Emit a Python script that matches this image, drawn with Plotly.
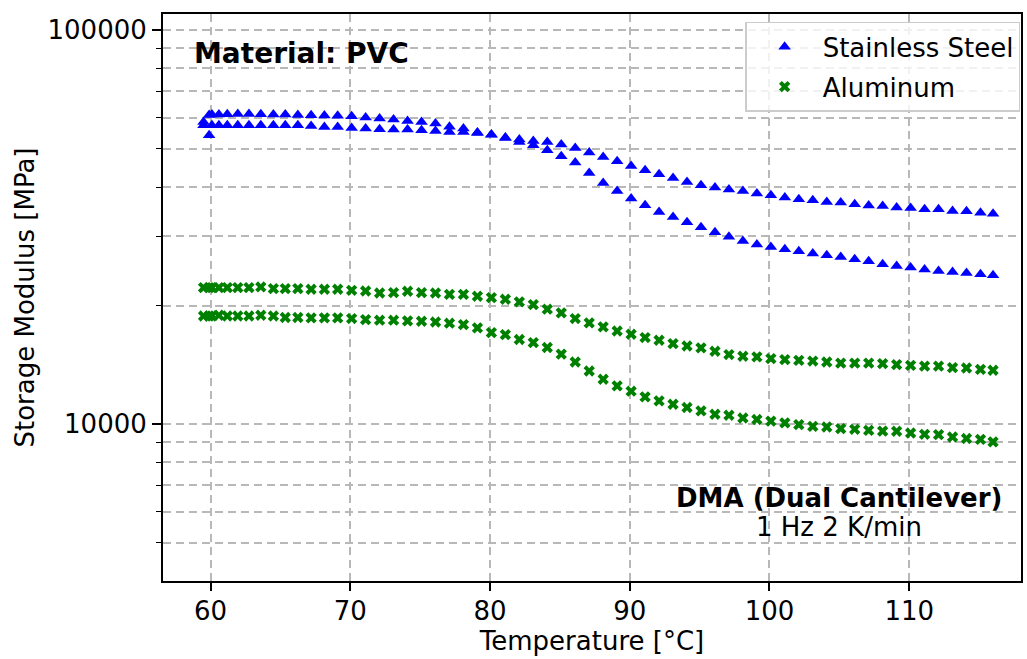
import plotly.graph_objects as go

# Temperatures [°C] shared by all measured curves
temperature = [59.5, 59.9, 60.1, 60.6, 61.2, 61.95, 62.75, 63.6, 64.5, 65.35, 66.25, 67.2, 68.15, 69.1,
               70.1, 71.1, 72.1, 73.1, 74.1, 75.1, 76.1, 77.1, 78.1, 79.1, 80.1, 81.1, 82.1, 83.1, 84.1,
               85.1, 86.1, 87.1, 88.1, 89.1, 90.1, 91.1, 92.1, 93.1, 94.1, 95.1, 96.1, 97.1, 98.1, 99.1,
               100.1, 101.1, 102.1, 103.1, 104.1, 105.1, 106.1, 107.1, 108.1, 109.1, 110.1, 111.1, 112.1,
               113.1, 114.1, 115.1, 116.0]

# Storage modulus [MPa]
steel_run1 = [58540, 61000, 61100, 61100, 61200, 61300, 61300, 61200, 61100, 61100, 61000, 60900, 60800, 60700,
              60490, 60030, 59690, 59340, 58860, 58540, 57990, 56900, 56310, 55000, 54360, 53420, 52800, 52360,
              52060, 51280, 50280, 48940, 47690, 46500, 45240, 44120, 43100, 42180, 41210, 40430, 39890, 39420,
              39090, 38500, 38120, 37620, 37250, 37030, 36660, 36540, 36170, 35900, 35810, 35480, 35400, 35130,
              35130, 34780, 34720, 34450, 34250]
steel_run2 = [57410, 54140, 57410, 57410, 57410, 57410, 57410, 57410, 57410, 57410, 57410, 57180, 56850, 56850,
              56510, 56310, 56080, 55980, 55980, 55750, 55520, 55200, 55200, 54900, 54300, 53300, 52060, 51070,
              49600, 47890, 46150, 43440, 40960, 39090, 37390, 35960, 34580, 33590, 32570, 31620, 30710, 29920,
              29190, 28590, 28180, 27810, 27480, 27120, 26850, 26590, 26240, 25930, 25480, 25230, 24990, 24700,
              24500, 24350, 24210, 24030, 23890]
alu_run1 = [22230, 22230, 22230, 22230, 22230, 22230, 22230, 22310, 22100, 22100, 22100, 22010, 22010, 22010,
            21880, 21790, 21540, 21590, 21760, 21590, 21540, 21370, 21370, 21130, 20970, 20760, 20440, 20130,
            19590, 19170, 18550, 18080, 17660, 17250, 16920, 16600, 16340, 16020, 15800, 15620, 15320, 15030,
            14880, 14820, 14680, 14590, 14530, 14470, 14390, 14300, 14300, 14300, 14250, 14170, 14110, 14050,
            14050, 13920, 13890, 13780, 13710]
alu_run2 = [18830, 18830, 18830, 18910, 18830, 18830, 18830, 18910, 18830, 18660, 18660, 18620, 18620, 18620,
            18550, 18440, 18370, 18370, 18290, 18260, 18180, 18050, 17910, 17560, 17090, 16890, 16410, 16120,
            15660, 15060, 14390, 13650, 13010, 12510, 12130, 11730, 11460, 11240, 11030, 10810, 10600, 10540,
            10370, 10280, 10180, 10080, 9980, 9880, 9840, 9750, 9710, 9650, 9610, 9600, 9500, 9430,
            9410, 9280, 9200, 9150, 9020]

x_ticks = [60, 70, 80, 90, 100, 110]
y_major_ticks = [10000, 100000]
y_major_labels = ["10000", "100000"]
y_minor_ticks = [5000, 6000, 7000, 8000, 9000, 20000, 30000, 40000, 50000, 60000, 70000, 80000, 90000]

FONT = "DejaVu Sans"
GRID = "#b8b8b8"
FS = 26

fig = go.Figure()
fig.add_trace(go.Scatter(x=temperature + temperature, y=steel_run1 + steel_run2, mode="markers",
                         name="Stainless Steel", legendgroup="ss",
                         marker=dict(symbol="triangle-up", size=11, color="blue", line=dict(width=0))))
fig.add_trace(go.Scatter(x=temperature + temperature, y=alu_run1 + alu_run2, mode="markers",
                         name="Aluminum", legendgroup="al",
                         marker=dict(symbol="x", size=10, color="green", line=dict(width=0))))

fig.update_layout(
    width=1027, height=659,
    margin=dict(l=163, r=4, t=14, b=78),
    paper_bgcolor="white", plot_bgcolor="white",
    font=dict(family=FONT, size=FS, color="black"),
    showlegend=True,
    legend=dict(x=0.999, y=0.986, xanchor="right", yanchor="top",
                bgcolor="rgba(255,255,255,0.8)", bordercolor="#cccccc", borderwidth=1.5,
                font=dict(family=FONT, size=FS, color="black"), itemwidth=66,
                tracegroupgap=3),
    xaxis=dict(
        range=[56.6, 118.0], tickmode="array", tickvals=x_ticks,
        ticks="outside", ticklen=8, tickwidth=1.5, tickcolor="black",
        showline=True, linecolor="black", linewidth=2, mirror=True,
        showgrid=True, gridcolor=GRID, griddash="8px,5px", gridwidth=1.5,
        zeroline=False, ticklabelstandoff=-2,
        tickfont=dict(family=FONT, size=FS, color="black"),
        title=dict(text="Temperature [°C]", font=dict(family=FONT, size=FS, color="black"), standoff=2),
    ),
    yaxis=dict(
        type="log", range=[3.6021, 5.0414], tickmode="array",
        tickvals=y_major_ticks, ticktext=y_major_labels,
        ticks="outside", ticklen=9, tickwidth=1.5, tickcolor="black",
        showline=True, linecolor="black", linewidth=2, mirror=True,
        showgrid=True, gridcolor=GRID, griddash="8px,5px", gridwidth=1.5,
        zeroline=False,
        tickfont=dict(family=FONT, size=FS, color="black"),
        title=dict(text="Storage Modulus [MPa]", font=dict(family=FONT, size=FS, color="black"), standoff=5),
        minor=dict(tickmode="array", tickvals=y_minor_ticks, ticks="outside", ticklen=5,
                   tickwidth=1.2, tickcolor="black", showgrid=True, gridcolor=GRID,
                   griddash="8px,5px", gridwidth=1.5),
    ),
)

fig.add_annotation(text="<b>Material: PVC</b>", xref="paper", yref="paper", x=0.034, y=0.931,
                   xanchor="left", yanchor="middle", showarrow=False,
                   font=dict(family=FONT, size=28, color="black"))
fig.add_annotation(text="<b>DMA (Dual Cantilever)</b>", xref="paper", yref="paper", x=0.788, y=0.1464,
                   xanchor="center", yanchor="middle", showarrow=False,
                   font=dict(family=FONT, size=FS, color="black"))
fig.add_annotation(text="1 Hz 2 K/min", xref="paper", yref="paper", x=0.788, y=0.0952,
                   xanchor="center", yanchor="middle", showarrow=False,
                   font=dict(family=FONT, size=FS, color="black"))

fig.write_html("out.html")
